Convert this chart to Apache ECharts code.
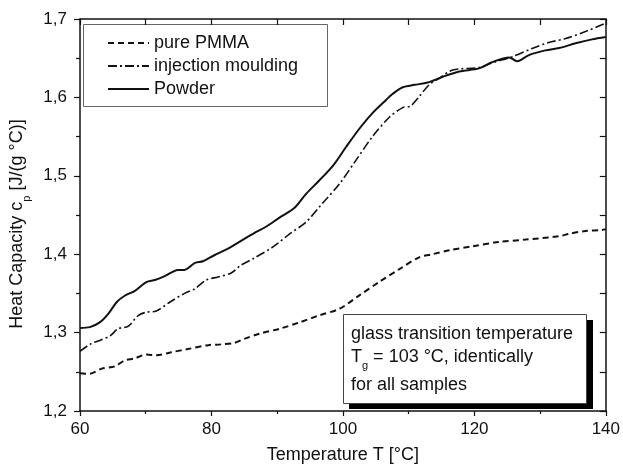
<!DOCTYPE html>
<html>
<head>
<meta charset="utf-8">
<script src="https://cdn.jsdelivr.net/npm/echarts@6/dist/echarts.min.js"></script>
<style>
html,body{margin:0;padding:0;background:#fff;}
#chart{width:623px;height:470px;}
</style>
</head>
<body>
<div id="chart"></div>
<script>
// Pure PMMA (dashed)
var pmmaT  = [60, 61.5, 63.3, 65.3, 66.8, 68.3, 70.1, 71.6, 73.9, 76.4, 79.5, 81.5, 83.5, 85, 87.3, 90.4, 93.4, 96.4, 99.5, 102.5, 105.5, 108.6, 111.6, 113.6, 116.2, 119.7, 123.8, 127.8, 132.9, 134.4, 136.9, 139.4, 140];
var pmmaCp = [1.248, 1.2475, 1.254, 1.257, 1.2645, 1.267, 1.272, 1.271, 1.275, 1.279, 1.284, 1.285, 1.287, 1.292, 1.2986, 1.305, 1.313, 1.322, 1.3305, 1.3475, 1.3645, 1.381, 1.396, 1.400, 1.405, 1.410, 1.4156, 1.4186, 1.423, 1.426, 1.4296, 1.431, 1.432];
// Injection moulding (dash-dot)
var injT  = [60, 61.5, 63, 64.6, 65.8, 67.3, 68.9, 70.1, 71.6, 73.7, 75.9, 77.5, 79.2, 81, 83, 84.5, 86.5, 89.3, 91.9, 94.4, 96.9, 99.5, 102, 104.5, 107.1, 109.1, 110.3, 111.6, 113.1, 114.6, 116.7, 120.7, 122.7, 125.8, 128.8, 131.3, 133.9, 136.9, 139.7, 140];
var injCp = [1.276, 1.285, 1.290, 1.296, 1.305, 1.308, 1.322, 1.326, 1.3275, 1.339, 1.350, 1.356, 1.367, 1.371, 1.376, 1.386, 1.395, 1.409, 1.426, 1.441, 1.465, 1.490, 1.520, 1.550, 1.575, 1.587, 1.589, 1.601, 1.616, 1.624, 1.635, 1.638, 1.644, 1.652, 1.6625, 1.670, 1.675, 1.684, 1.6936, 1.695];
// Powder (solid)
var powT  = [60, 61.5, 63, 64.3, 65.6, 66.8, 68.3, 70.1, 71.4, 72.9, 74.9, 75.9, 77.5, 78.7, 80.5, 82.5, 84.5, 86.5, 88.3, 90.4, 92.6, 94.4, 96.4, 98.5, 100.5, 102.5, 104.5, 106.6, 107.5, 109.1, 110.9, 112.9, 115.1, 117.7, 120.7, 122.7, 125.3, 126.5, 128.3, 130.8, 132.9, 135.4, 137.9, 140];
var powCp = [1.306, 1.307, 1.313, 1.324, 1.339, 1.347, 1.353, 1.3645, 1.367, 1.372, 1.380, 1.380, 1.389, 1.391, 1.399, 1.407, 1.417, 1.427, 1.435, 1.447, 1.459, 1.477, 1.494, 1.513, 1.537, 1.560, 1.580, 1.597, 1.604, 1.613, 1.616, 1.619, 1.626, 1.633, 1.637, 1.645, 1.651, 1.646, 1.654, 1.660, 1.663, 1.669, 1.674, 1.677];

var seriesNames = ['pure PMMA', 'injection moulding', 'Powder'];
var xTicks = [60, 80, 100, 120, 140];
var yTicks = [1.2, 1.3, 1.4, 1.5, 1.6, 1.7];

function zip(a, b) { return a.map(function (v, i) { return [v, b[i]]; }); }

var FONT = '"Liberation Sans", Arial, sans-serif';
var chart = echarts.init(document.getElementById('chart'), null, {renderer: 'canvas'});

var axisLine = {show: true, lineStyle: {color: '#111', width: 1.5}};

var option = {
  backgroundColor: '#fff',
  animation: false,
  textStyle: {fontFamily: FONT},
  grid: {left: 80, right: 16, top: 19, bottom: 59, containLabel: false},
  legend: {
    orient: 'vertical',
    left: 107, top: 34, padding: 0,
    itemWidth: 41, itemHeight: 18, itemGap: 5,
    itemStyle: {opacity: 0},
    textStyle: {fontSize: 18, color: '#111', fontFamily: FONT},
    data: seriesNames,
    selectedMode: false
  },
  xAxis: [{
    type: 'value', min: xTicks[0], max: xTicks[xTicks.length - 1], interval: 20,
    position: 'bottom',
    name: 'Temperature T [°C]', nameLocation: 'middle', nameGap: 35,
    nameTextStyle: {fontSize: 18, color: '#111', fontFamily: FONT},
    axisLine: axisLine,
    axisTick: {show: true, inside: false, length: 5, lineStyle: {color: '#111', width: 1.2}},
    minorTick: {show: true, splitNumber: 2, length: 3, lineStyle: {color: '#111', width: 1.2}},
    axisLabel: {fontSize: 17, color: '#111', margin: 10, fontFamily: FONT},
    splitLine: {show: false}
  }, {
    type: 'value', min: 60, max: 140, interval: 10, position: 'top',
    axisLine: axisLine,
    axisTick: {show: true, inside: true, length: 6, lineStyle: {color: '#111', width: 1.2}},
    axisLabel: {show: false}, splitLine: {show: false}
  }],
  yAxis: [{
    type: 'value', min: yTicks[0], max: yTicks[yTicks.length - 1], interval: 0.1,
    position: 'left',
    name: 'Heat Capacity c{s|p} [J/(g °C)]', nameLocation: 'middle', nameGap: 53,
    nameTextStyle: {fontSize: 18, color: '#111', fontFamily: FONT, padding: [0, 18, 0, 0],
      rich: {s: {fontSize: 11, fontFamily: FONT, color: '#111', verticalAlign: 'bottom', padding: [0, 0, -6, 0]}}},
    axisLine: axisLine,
    axisTick: {show: true, inside: false, length: 6, lineStyle: {color: '#111', width: 1.2}},
    minorTick: {show: true, splitNumber: 2, length: 4, lineStyle: {color: '#111', width: 1.2}},
    axisLabel: {fontSize: 17, color: '#111', margin: 13, fontFamily: FONT,
      formatter: function (v) { return v.toFixed(1).replace('.', ','); }},
    splitLine: {show: false}
  }, {
    type: 'value', min: 1.2, max: 1.7, interval: 0.05, position: 'right',
    axisLine: axisLine,
    axisTick: {show: true, inside: true, length: 6, lineStyle: {color: '#111', width: 1.2}},
    axisLabel: {show: false}, splitLine: {show: false}
  }],
  series: [{
    name: seriesNames[0], type: 'line', data: zip(pmmaT, pmmaCp),
    symbol: 'none', smooth: 0.3, xAxisIndex: 0, yAxisIndex: 0,
    lineStyle: {color: '#111', width: 2, type: [6, 4]},
    itemStyle: {color: '#111'}
  }, {
    name: seriesNames[1], type: 'line', data: zip(injT, injCp),
    symbol: 'none', smooth: 0.3,
    lineStyle: {color: '#111', width: 1.6, type: [9, 3, 2, 3]},
    itemStyle: {color: '#111'}
  }, {
    name: seriesNames[2], type: 'line', data: zip(powT, powCp),
    symbol: 'none', smooth: 0.3,
    lineStyle: {color: '#111', width: 2, type: 'solid'},
    itemStyle: {color: '#111'}
  }],
  graphic: [
    {type: 'rect', z: -1, shape: {x: 83.5, y: 24.5, width: 244, height: 82},
      style: {fill: '#fff', stroke: '#666', lineWidth: 1}},
    {type: 'rect', z: 10, shape: {x: 349, y: 320, width: 244, height: 89},
      style: {fill: '#000'}},
    {type: 'rect', z: 11, shape: {x: 343.5, y: 314.5, width: 243, height: 89},
      style: {fill: '#fff', stroke: '#444', lineWidth: 1}},
    {type: 'text', z: 12, x: 351, y: 334,
      style: {text: 'glass transition temperature', fontSize: 18, fontFamily: FONT, fill: '#111', verticalAlign: 'middle'}},
    {type: 'text', z: 12, x: 351, y: 357,
      style: {text: '{n|T}{s|g}{n| = 103 °C, identically}', fontSize: 18, fontFamily: FONT, fill: '#111', verticalAlign: 'middle',
        rich: {n: {fontSize: 18, fontFamily: FONT, fill: '#111'},
               s: {fontSize: 11, fontFamily: FONT, fill: '#111', verticalAlign: 'bottom', padding: [0, 0, -5, 0]}}}},
    {type: 'text', z: 12, x: 351, y: 385,
      style: {text: 'for all samples', fontSize: 18, fontFamily: FONT, fill: '#111', verticalAlign: 'middle'}}
  ]
};
chart.setOption(option);
</script>
</body>
</html>
